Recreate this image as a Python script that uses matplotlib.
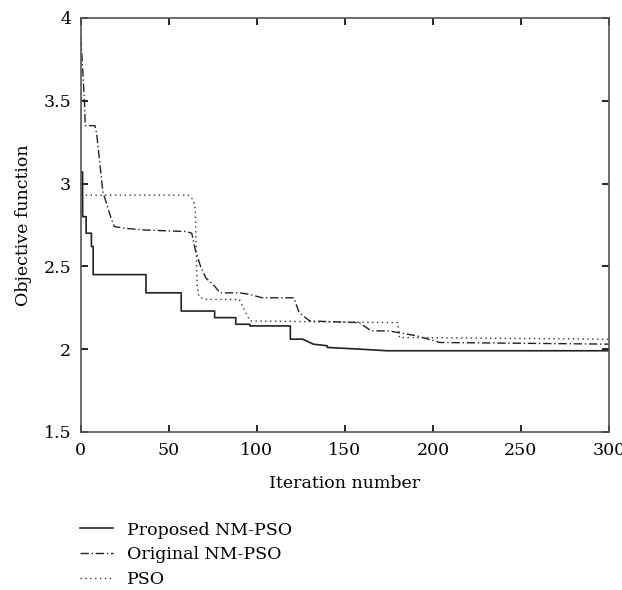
import matplotlib
matplotlib.use("Agg")
import matplotlib.pyplot as plt

plt.rcParams['font.family'] = ['DejaVu Serif']

# Proposed NM-PSO
prop_x = [0, 1, 1, 3, 3, 6, 6, 7, 7, 37, 37, 57, 57, 76, 76, 88, 88, 96, 96, 119, 119, 126, 132, 140, 140, 158, 174, 300]
prop_y = [3.07, 3.07, 2.80, 2.80, 2.70, 2.70, 2.62, 2.62, 2.45, 2.45, 2.34, 2.34, 2.23, 2.23, 2.19, 2.19, 2.15, 2.15, 2.14, 2.14, 2.06, 2.06, 2.03, 2.02, 2.01, 2.00, 1.99, 1.99]

# Original NM-PSO
orig_x = [0, 1, 2, 2.5, 8, 9, 12.5, 17.5, 19, 25, 35, 60, 63, 65, 68, 71, 76, 79, 90, 96, 103, 121, 124, 130, 158, 165, 175, 180, 191, 204, 300]
orig_y = [3.88, 3.70, 3.50, 3.35, 3.35, 3.30, 2.95, 2.78, 2.74, 2.73, 2.72, 2.71, 2.70, 2.60, 2.50, 2.43, 2.38, 2.34, 2.34, 2.33, 2.31, 2.31, 2.22, 2.17, 2.16, 2.11, 2.11, 2.10, 2.08, 2.04, 2.03]

# PSO
pso_x = [0, 61, 64, 65, 65.5, 66, 67, 70, 90, 96, 177, 180, 181, 300]
pso_y = [2.93, 2.93, 2.90, 2.84, 2.62, 2.40, 2.32, 2.30, 2.30, 2.17, 2.16, 2.16, 2.07, 2.06]

xticks = [0, 50, 100, 150, 200, 250, 300]
yticks = [1.5, 2, 2.5, 3, 3.5, 4]
ytick_labels = ['1.5', '2', '2.5', '3', '3.5', '4']

FS = 12.5

fig = plt.figure(figsize=(6.22, 5.90), dpi=100)
ax = fig.add_axes([0.130, 0.268, 0.849, 0.7015])

l1, = ax.plot(prop_x, prop_y, color='#222222', lw=1.2, label='Proposed NM-PSO')
l2, = ax.plot(orig_x, orig_y, color='#222222', lw=1.0, dashes=(6, 2, 1, 2), label='Original NM-PSO')
l3, = ax.plot(pso_x, pso_y, color='#333333', lw=1.0, dashes=(1, 2.5), label='PSO')

ax.set_xlim(0, 300)
ax.set_ylim(1.5, 4)
ax.set_xticks(xticks)
ax.set_yticks(yticks)
ax.set_yticklabels(ytick_labels)
ax.tick_params(direction='in', length=5, width=1.2, top=True, right=True, labelsize=FS, pad=7)
for s in ax.spines.values():
    s.set_color('#555555')
    s.set_linewidth(1.2)

ax.set_xlabel('Iteration number', fontsize=FS, labelpad=12)
ax.set_ylabel('Objective function', fontsize=FS, labelpad=8)

fig.legend(handles=[l1, l2, l3], loc='upper left', bbox_to_anchor=(0.128, 0.116),
           frameon=False, fontsize=FS, handlelength=1.9, handletextpad=0.85,
           labelspacing=0.45, borderaxespad=0, borderpad=0)

fig.savefig('out.png', dpi=100)
